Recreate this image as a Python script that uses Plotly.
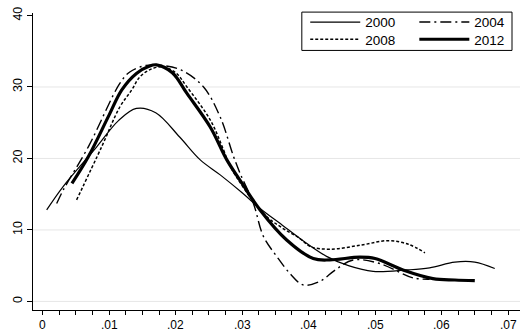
import plotly.graph_objects as go

# ---- data ----
x2000 = [0.0006, 0.0031, 0.0081, 0.0114, 0.0141, 0.0170, 0.0206, 0.0237, 0.0267, 0.0300,
         0.0327, 0.0360, 0.0387, 0.0427, 0.0460, 0.0497, 0.0547, 0.0582, 0.0620, 0.0650, 0.0680]
y2000 = [12.8, 16.1, 21.6, 25.3, 27.0, 26.4, 23.0, 19.8, 17.7, 15.2,
         13.0, 10.7, 8.8, 6.3, 5.0, 4.2, 4.4, 4.7, 5.5, 5.5, 4.6]

x2004 = [0.0021, 0.0031, 0.0069, 0.0116, 0.0131, 0.0155, 0.0181, 0.0210, 0.0242, 0.0267,
         0.0287, 0.0297, 0.0317, 0.0332, 0.0352, 0.0372, 0.0392, 0.0417, 0.0440, 0.0467,
         0.0507, 0.0557, 0.0582]
y2004 = [13.7, 15.6, 21.7, 30.5, 32.1, 33.0, 33.0, 32.3, 30.0, 25.8,
         20.3, 17.9, 13.7, 9.1, 6.3, 3.9, 2.3, 2.8, 4.4, 5.8,
         5.3, 3.3, 3.1]

x2008 = [0.0051, 0.0089, 0.0116, 0.0134, 0.0146, 0.0163, 0.0181, 0.0200, 0.0217, 0.0252,
         0.0272, 0.0282, 0.0332, 0.0360, 0.0387, 0.0402, 0.0432, 0.0480, 0.0520, 0.0550, 0.0575]
y2008 = [14.2, 21.7, 27.2, 29.6, 31.4, 32.5, 32.8, 32.0, 30.0, 25.4,
         21.2, 18.9, 12.3, 10.3, 8.8, 7.7, 7.3, 7.9, 8.5, 8.0, 6.8]

x2012 = [0.0044, 0.0069, 0.0100, 0.0119, 0.0141, 0.0160, 0.0171, 0.0195, 0.0217, 0.0252,
         0.0277, 0.0300, 0.0327, 0.0367, 0.0407, 0.0432, 0.0477, 0.0500, 0.0542, 0.0587,
         0.0620, 0.0650]
y2012 = [16.5, 20.3, 26.1, 29.6, 31.9, 32.9, 33.1, 32.0, 29.1, 24.4,
         19.8, 16.5, 12.8, 8.6, 6.0, 5.8, 6.2, 6.0, 4.4, 3.2,
         3.0, 2.9]

x_ticks = [0, 0.01, 0.02, 0.03, 0.04, 0.05, 0.06, 0.07]
x_tick_labels = ["0", ".01", ".02", ".03", ".04", ".05", ".06", ".07"]
y_ticks = [0, 10, 20, 30, 40]
y_grid = [0, 10, 20, 30]

FONT = "Liberation Sans, Arial, sans-serif"

# one legend per entry so the 2x2 legend grid can be placed exactly
legend_pos = {"legend": (0.559, 1.021), "legend2": (0.783, 1.021),
              "legend3": (0.559, 0.963), "legend4": (0.783, 0.963)}

fig = go.Figure()
series = [
    ("2000", x2000, y2000, dict(color="black", width=1.2, dash="solid"), "legend"),
    ("2004", x2004, y2004, dict(color="black", width=1.4, dash="11px,4px,2px,4px"), "legend2"),
    ("2008", x2008, y2008, dict(color="black", width=1.5, dash="3px,2px"), "legend3"),
    ("2012", x2012, y2012, dict(color="black", width=3.2, dash="solid"), "legend4"),
]
for name, xs, ys, ln, lg in series:
    fig.add_trace(go.Scatter(x=xs, y=ys, mode="lines", name=name, legend=lg,
                             line=dict(shape="spline", smoothing=1.0, **ln)))

for g in y_grid:
    fig.add_shape(type="line", xref="paper", x0=0, x1=1, yref="y", y0=g, y1=g,
                  line=dict(color="#e6e6e6", width=1), layer="below")

# legend frame
fig.add_shape(type="rect", xref="paper", yref="paper", x0=0.552, x1=0.9836, y0=0.874, y1=1.003,
              line=dict(color="black", width=1), fillcolor="white", layer="above")

for t, lab in zip(x_ticks, x_tick_labels):
    fig.add_annotation(x=t, y=0, xref="x", yref="paper", text=lab, showarrow=False,
                       xanchor="center", yanchor="top", yshift=-6,
                       font=dict(family=FONT, size=12, color="black"))

leg_common = dict(orientation="v", xanchor="left", yanchor="top", bgcolor="rgba(0,0,0,0)",
                  borderwidth=0, itemwidth=50, tracegroupgap=0,
                  font=dict(family=FONT, size=13.5, color="black"))
legends = {k: dict(x=v[0], y=v[1], **leg_common) for k, v in legend_pos.items()}

fig.update_layout(
    width=522, height=331,
    margin=dict(l=33, r=2, t=13, b=21, autoexpand=False),
    paper_bgcolor="white", plot_bgcolor="white",
    font=dict(family=FONT, size=12, color="black"),
    showlegend=True,
    **legends,
    xaxis=dict(range=[-0.00146, 0.0718], tickvals=x_ticks, showticklabels=False,
               showgrid=False, zeroline=False, showline=True, linecolor="black", linewidth=1,
               ticks="outside", ticklen=4, tickcolor="black",
               minor=dict(dtick=0.0025, tick0=0, ticks="outside", ticklen=4, tickcolor="black", showgrid=False)),
    yaxis=dict(range=[-1.2, 40.35], tickvals=y_ticks, tickangle=-90,
               tickfont=dict(family=FONT, size=12.5, color="black"),
               showgrid=False, zeroline=False, showline=True, linecolor="black", linewidth=1,
               ticks="outside", ticklen=5, tickcolor="black"),
)

fig.write_html("out.html", config={"displayModeBar": False},
               post_script="document.body.style.margin='0';document.body.style.overflow='hidden';")
